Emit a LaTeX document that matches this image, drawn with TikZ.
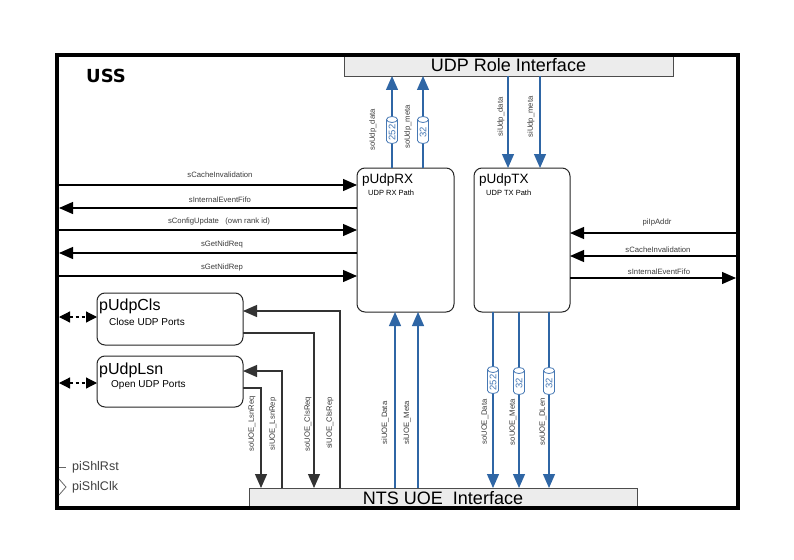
\documentclass[tikz,border=0pt]{standalone}
\usepackage{fontspec}
\setmainfont{Liberation Sans}
\newfontfamily\dejavu{DejaVu Sans}
\usetikzlibrary{arrows.meta}
\definecolor{ublue}{RGB}{47,102,165}
\definecolor{cblue}{RGB}{70,120,180}
\definecolor{ifill}{RGB}{236,236,236}
\definecolor{lbl}{RGB}{60,60,60}
\newcommand\mycyl[4]{%
  \begin{scope}[shift={(#1,#2)}]
    \draw[cyl] (-5.5,-10.5) -- (-5.5,10.5) arc(180:360:5.5pt and 3pt) -- (5.5,-10.5) arc(0:180:5.5pt and 3pt) -- cycle;
    \draw[cyl] (-5.5,-10.5) arc(180:360:5.5pt and 3pt);
    \node[cyltext, rotate=90] (#4) at (0,2.5) {#3};
  \end{scope}}
\begin{document}
\begin{tikzpicture}[x=1pt,y=-1pt,
  frame/.style={draw, line width=3.5pt, inner sep=0, outer sep=0, anchor=north west},
  iface/.style={draw=black!70, fill=ifill, line width=0.8pt, inner sep=0, outer sep=0, anchor=north west, font=\fontsize{18}{20}\selectfont},
  proc/.style={draw=black!85, line width=1pt, rounded corners=8pt, inner sep=0, outer sep=0, anchor=north west},
  sig/.style={font=\fontsize{7.7}{9}\selectfont, text=lbl, inner sep=0},
  arr/.style={-{Triangle[length=14pt,width=12pt]}, line width=1.2pt, black},
  barr/.style={-{Triangle[length=14pt,width=12pt]}, line width=1.2pt, ublue},
  garr/.style={-{Triangle[length=14pt,width=12pt]}, line width=1.2pt, black!80},
  darr/.style={{Triangle[length=11pt,width=11pt]}-{Triangle[length=11pt,width=11pt]}, line width=1.2pt, dash pattern=on 3pt off 3pt},
  cyl/.style={draw=cblue, fill=white, line width=0.8pt},
  cyltext/.style={font=\fontsize{9.5}{10}\selectfont, text=cblue, inner sep=0},
  ttl/.style={anchor=base west, inner sep=0},
  sub/.style={anchor=west, inner sep=0}
]
\useasboundingbox (0,0) rectangle (794,559);
\fill[white] (0,0) rectangle (794,559);

% interface boxes
\node[iface, minimum width=329, minimum height=21] (role) at (344,55) {UDP Role Interface};
\node[iface, minimum width=388, minimum height=20] (nts) at (249,488) {NTS UOE\ \ Interface};

% frame
\node[frame, minimum width=681, minimum height=453] (uss) at (57,55) {};
\node[anchor=base west, inner sep=0, font=\dejavu\bfseries\fontsize{18}{20}\selectfont] (ussl) at (86,83) {USS};

% processes
\node[proc, minimum width=97, minimum height=144] (rx) at (357,168) {};
\node[proc, minimum width=96, minimum height=144] (tx) at (474,168) {};
\node[proc, minimum width=146, minimum height=52] (cls) at (97,293) {};
\node[proc, minimum width=146, minimum height=51] (lsn) at (97,356) {};

\node[ttl, font=\fontsize{13.5}{15}\selectfont] (rxt) at (362,183) {pUdpRX};
\node[sub, font=\fontsize{7.5}{9}\selectfont] (rxs) at (368,193) {UDP RX Path};
\node[ttl, font=\fontsize{13.5}{15}\selectfont] (txt) at (479,183) {pUdpTX};
\node[sub, font=\fontsize{7.5}{9}\selectfont] (txs) at (486,193) {UDP TX Path};
\node[ttl, font=\fontsize{16}{18}\selectfont] (clst) at (99,310) {pUdpCls};
\node[sub, font=\fontsize{10}{12}\selectfont] (clss) at (109,322) {Close UDP Ports};
\node[ttl, font=\fontsize{16}{18}\selectfont] (lsnt) at (99,374) {pUdpLsn};
\node[sub, font=\fontsize{10}{12}\selectfont] (lsns) at (111,385) {Open UDP Ports};

% left signals
\draw[arr] ([xshift=2pt]uss.west |- 0,185) -- (rx.west |- 0,185);
\draw[arr] (rx.west |- 0,208) -- ([xshift=2pt]uss.west |- 0,208);
\draw[arr] ([xshift=2pt]uss.west |- 0,230) -- (rx.west |- 0,230);
\draw[arr] (rx.west |- 0,253) -- ([xshift=2pt]uss.west |- 0,253);
\draw[arr] ([xshift=2pt]uss.west |- 0,276) -- (rx.west |- 0,276);
\node[sig] (l1) at (220,175) {sCacheInvalidation};
\node[sig] (l2) at (220,200) {sInternalEventFifo};
\node[sig] (l3) at (219,222) {sConfigUpdate\ \ \ (own rank id)};
\node[sig] (l4) at (222,245) {sGetNidReq};
\node[sig] (l5) at (222,268) {sGetNidRep};

% right signals
\draw[arr] ([xshift=-2pt]uss.east |- 0,233) -- (tx.east |- 0,233);
\draw[arr] ([xshift=-2pt]uss.east |- 0,256) -- (tx.east |- 0,256);
\draw[arr] (tx.east |- 0,278) -- ([xshift=-2pt]uss.east |- 0,278);
\node[sig] (r1) at (657,223) {piIpAddr};
\node[sig] (r2) at (658,250) {sCacheInvalidation};
\node[sig] (r3) at (659,272) {sInternalEventFifo};

% dashed bidirectional
\draw[darr] ([xshift=2pt]uss.west |- 0,317) -- (cls.west |- 0,317);
\draw[darr] ([xshift=2pt]uss.west |- 0,383) -- (lsn.west |- 0,383);

% cls / lsn to NTS
\draw[garr] (lsn.east |- 0,388) -| (nts.north -| 261,0);
\draw[garr] (nts.north -| 282,0) |- (lsn.east |- 0,371);
\draw[garr] (cls.east |- 0,333) -| (nts.north -| 314,0);
\draw[garr] (nts.north -| 340,0) |- (cls.east |- 0,311);
\node[sig, rotate=90] (b1) at (252,424) {soUOE\_LsnReq};
\node[sig, rotate=90] (b2) at (273,424) {siUOE\_LsnRep};
\node[sig, rotate=90] (b3) at (308,424) {soUOE\_ClsReq};
\node[sig, rotate=90] (b4) at (330,423) {siUOE\_ClsRep};

% blue top
\draw[barr] (rx.north -| 392,0) -- (role.south -| 392,0);
\draw[barr] (rx.north -| 423,0) -- (role.south -| 423,0);
\draw[barr] (role.south -| 508,0) -- (tx.north -| 508,0);
\draw[barr] (role.south -| 540,0) -- (tx.north -| 540,0);
\mycyl{392}{130}{252}{c1}
\mycyl{423}{130}{32}{c2}
\node[sig, rotate=90] (u1) at (373,130) {soUdp\_data};
\node[sig, rotate=90] (u2) at (408,127) {soUdp\_meta};
\node[sig, rotate=90] (u3) at (501,117) {siUdp\_data};
\node[sig, rotate=90] (u4) at (531,117) {siUdp\_meta};

% blue bottom
\draw[barr] (nts.north -| 395,0) -- (rx.south -| 395,0);
\draw[barr] (nts.north -| 418,0) -- (rx.south -| 418,0);
\draw[barr] (tx.south -| 493,0) -- (nts.north -| 493,0);
\draw[barr] (tx.south -| 519,0) -- (nts.north -| 519,0);
\draw[barr] (tx.south -| 549,0) -- (nts.north -| 549,0);
\mycyl{493}{380}{252}{c3}
\mycyl{519}{381}{32}{c4}
\mycyl{549}{381}{32}{c5}
\node[sig, rotate=90] (d1) at (385,423) {siUOE\_Data};
\node[sig, rotate=90] (d2) at (407,423) {siUOE\_Meta};
\node[sig, rotate=90] (d3) at (485,422) {soUOE\_Data};
\node[sig, rotate=90] (d4) at (513,422) {soUOE\_Meta};
\node[sig, rotate=90] (d5) at (543,422) {soUOE\_DLen};

% reset / clock
\coordinate (rst) at ([xshift=2pt]uss.west |- 0,467);
\coordinate (clk) at ([xshift=2pt]uss.west |- 0,479);
\draw[black!60, line width=0.8pt] (rst) -- ++(7,0);
\draw[black!60, line width=0.8pt] (clk) -- ++(7,8) -- ++(-7,8);
\node[anchor=west, inner sep=0, text=black!75, font=\fontsize{12.5}{14}\selectfont] (rstl) at (72,467) {piShlRst};
\node[anchor=west, inner sep=0, text=black!75, font=\fontsize{12.5}{14}\selectfont] (clkl) at (72,487) {piShlClk};
\end{tikzpicture}
\end{document}
